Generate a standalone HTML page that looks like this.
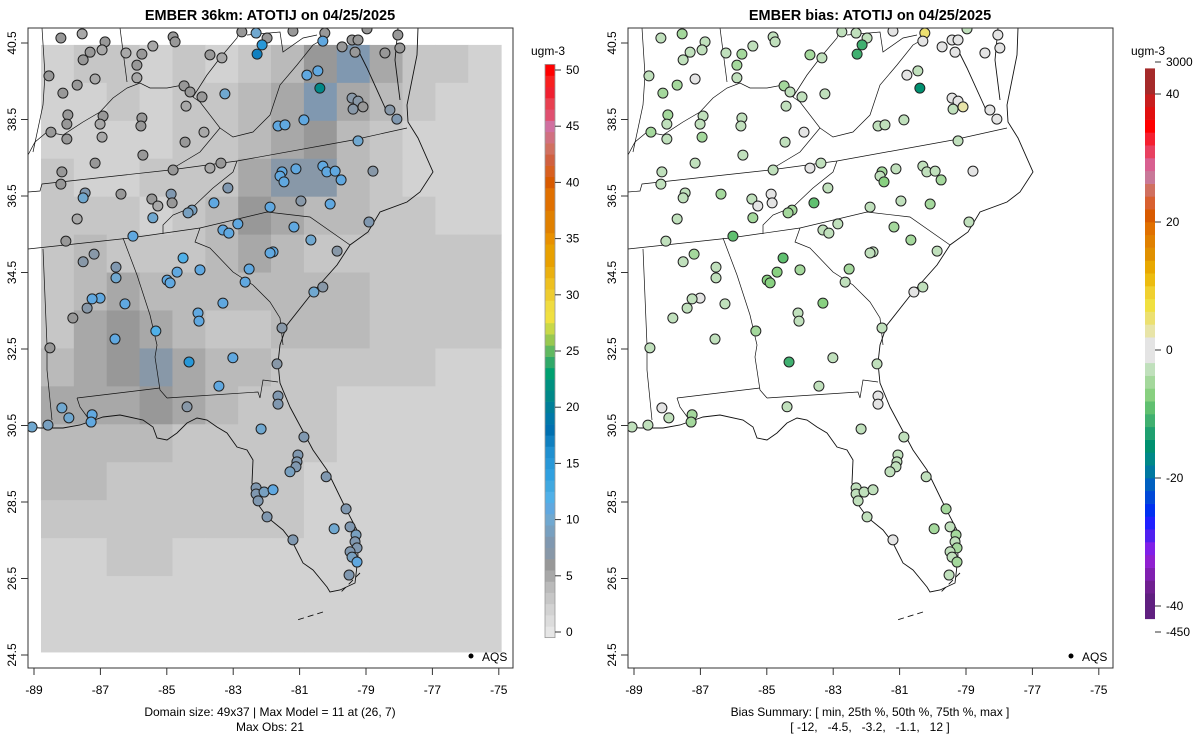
<!DOCTYPE html>
<html><head><meta charset="utf-8">
<style>
html,body{margin:0;padding:0;background:#fff;}
svg{display:block;font-family:"Liberation Sans",Arial,sans-serif;}
</style></head>
<body>
<svg id="chart" width="1200" height="750" viewBox="0 0 1200 750" xmlns="http://www.w3.org/2000/svg">
<defs>
<clipPath id="clipBox"><rect x="28" y="28" width="485" height="640"/></clipPath>
<g id="basemap" fill="none" stroke="#111" stroke-width="0.9">
<polyline points="418,28 417,55 407,105 408,122 418,138 433,172 420,192 407,202 380,212 368,232 350,245 337,265 313,292 287,325 280,345 278,363 280,383 290,407 313,450 327,470 345,507 357,530 358,557 355,583 340,590 330,592 327,587 313,570 303,563 293,543 283,530 267,517 257,503 252,483 253,460 247,450 237,447 227,433 217,427 207,420 197,418 187,423 177,433 167,440 157,438 153,427 143,420 120,415 103,417 80,425 63,428 40,428 28,427"/>
<polyline points="360,573 340,593" stroke-dasharray="6,4"/>
<polyline points="323,612 297,620" stroke-dasharray="6,4"/>
<polyline points="387,112 367,68 357,48"/>
<polyline points="398,28 395,60 400,100"/>
<polyline points="28,192 40,191 42,184 170,170 237,161 353,140 407,128" stroke-width="0.7"/>
<polyline points="28,249 130,238 200,228 267,212 310,217 350,245" stroke-width="0.7"/>
<polyline points="237,161 233,172 213,188 193,207 173,215 163,225 163,234" stroke-width="0.7"/>
<polyline points="200,228 195,242 210,248 233,272 253,285 270,302 280,318 283,345" stroke-width="0.7"/>
<polyline points="123,238 137,275 150,315 157,345 155,357 160,390 167,398" stroke-width="0.7"/>
<polyline points="167,398 258,392 260,398 263,380 278,382" stroke-width="0.7"/>
<polyline points="77,398 160,388" stroke-width="0.7"/>
<polyline points="77,398 80,407 88,418" stroke-width="0.7"/>
<polyline points="43,249 47,345 47,370 52,420" stroke-width="0.7"/>
<polyline points="170,170 200,152 220,128 200,102 193,97" stroke-width="0.7"/>
<polyline points="28,155 35,142 47,132 63,135 83,122 100,112 113,98 127,88 140,83 150,88 167,88 183,85 193,97" stroke-width="0.7"/>
<polyline points="42,28 45,75 43,105 33,152" stroke-width="0.7"/>
<polyline points="120,28 127,82" stroke-width="0.7"/>
<polyline points="220,128 233,137 253,132 270,115 280,85 297,65 313,45 327,37" stroke-width="0.7"/>
<polyline points="193,97 207,75 220,58 237,38 240,28" stroke-width="0.7"/>
<polyline points="247,35 280,32 283,52 303,38 317,35" stroke-width="0.7"/>
</g>
</defs>
<text x="270" y="20" text-anchor="middle" font-size="14.5" font-weight="bold">EMBER 36km: ATOTIJ on 04/25/2025</text>
<text x="870" y="20" text-anchor="middle" font-size="14.5" font-weight="bold">EMBER bias: ATOTIJ on 04/25/2025</text>
<g id="leftPanel">
 <g id="leftGrid" clip-path="url(#clipBox)"></g>
 <use href="#basemap" clip-path="url(#clipBox)"/>
 <g id="leftStations" clip-path="url(#clipBox)"></g>
 <rect x="28" y="28" width="485" height="640" fill="none" stroke="#333" stroke-width="1"/>
 <g id="leftAxes"></g>
 <circle cx="471" cy="656" r="2.5" fill="#000"/>
 <text x="482" y="661" font-size="12">AQS</text>
 <text x="270" y="716" text-anchor="middle" font-size="12">Domain size: 49x37 | Max Model = 11 at (26, 7)</text>
 <text x="270" y="731" text-anchor="middle" font-size="12">Max Obs: 21</text>
</g>
<g id="rightPanel" transform="translate(600,0)">
 <use href="#basemap" clip-path="url(#clipBox)"/>
 <g id="rightStations" clip-path="url(#clipBox)"></g>
 <rect x="28" y="28" width="485" height="640" fill="none" stroke="#333" stroke-width="1"/>
 <g id="rightAxes"></g>
 <circle cx="471" cy="656" r="2.5" fill="#000"/>
 <text x="482" y="661" font-size="12">AQS</text>
 <text x="270" y="716" text-anchor="middle" font-size="12">Bias Summary: [ min, 25th %, 50th %, 75th %, max ]</text>
 <text x="270" y="731" text-anchor="middle" font-size="12" xml:space="preserve">[ -12,   -4.5,   -3.2,   -1.1,   12 ]</text>
</g>
<g id="cbLeft"></g>
<g id="cbRight"></g>
</svg>
<script>
const NS="http://www.w3.org/2000/svg";
const xTicks=[-89,-87,-85,-83,-81,-79,-77,-75];
const yTicks=[40.5,38.5,36.5,34.5,32.5,30.5,28.5,26.5,24.5];
const gridLonMin=-88.79, gridLonMax=-74.93, gridLatMax=40.45, gridLatMin=24.58;
const modelGrid=[
[2,3,3,2,3,2,3,4,6,8,5,3,3,2],
[2,2,3,2,3,3,4,5,8,5,4,3,2,2],
[2,2,2,2,3,3,4,5,6,4,3,2,2,2],
[3,2,2,3,3,3,5,7,7,4,3,2,2,2],
[3,3,3,2,3,4,6,5,4,4,3,3,2,2],
[3,4,3,3,3,4,5,4,3,3,3,3,3,3],
[3,4,5,4,4,4,4,4,4,4,3,3,3,3],
[3,5,6,5,4,3,3,4,4,4,3,3,3,3],
[4,5,6,7,5,4,4,3,3,3,3,3,2,2],
[5,5,5,6,5,4,3,3,3,2,2,2,2,2],
[4,4,4,4,3,3,3,3,3,2,2,2,2,2],
[4,4,3,3,3,3,3,3,2,2,2,2,2,2],
[3,3,3,3,3,3,3,3,2,2,2,2,2,2],
[2,2,3,3,2,2,2,2,2,2,2,2,2,2],
[2,2,2,2,2,2,2,2,2,2,2,2,2,2],
[2,2,2,2,2,2,2,2,2,2,2,2,2,2]];
const stLon=[-88.19,-87.55,-86.86,-86.95,-87.31,-87.52,-86.23,-85.75,-85.42,-84.81,-84.75,-85.90,-85.90,-88.55,-87.70,-88.13,-87.16,-83.70,-83.34,-82.74,-82.31,-81.98,-82.13,-82.28,-81.20,-80.24,-80.30,-79.72,-79.42,-79.24,-79.33,-78.97,-78.04,-77.98,-78.43,-80.45,-80.78,-80.39,-79.42,-79.24,-79.39,-79.09,-78.28,-78.07,-84.48,-84.30,-83.94,-83.25,-84.42,-87.98,-86.92,-88.01,-87.01,-88.49,-88.01,-86.95,-85.75,-85.78,-83.88,-81.65,-81.44,-80.87,-84.45,-85.72,-87.16,-88.16,-88.19,-84.81,-83.70,-83.37,-79.24,-81.53,-81.59,-81.47,-81.11,-80.30,-80.18,-79.93,-79.75,-78.79,-87.46,-87.52,-86.38,-85.45,-85.27,-84.87,-84.84,-83.58,-83.16,-84.24,-84.36,-85.42,-87.70,-81.89,-80.96,-80.08,-78.91,-83.31,-83.13,-82.86,-81.17,-80.66,-86.02,-88.04,-87.19,-87.52,-86.53,-86.53,-84.51,-84.69,-84.00,-84.99,-84.90,-81.80,-81.89,-79.87,-82.52,-82.64,-80.30,-80.57,-87.01,-87.25,-87.40,-86.26,-87.83,-83.31,-84.06,-84.03,-85.33,-86.56,-81.53,-88.52,-84.33,-83.01,-81.68,-83.43,-81.65,-81.65,-84.39,-88.16,-87.95,-87.25,-87.28,-88.58,-89.06,-82.16,-80.87,-81.05,-81.08,-81.11,-81.29,-80.20,-82.31,-82.31,-82.07,-81.80,-82.25,-81.98,-81.20,-79.60,-79.96,-79.48,-79.30,-79.33,-79.27,-79.48,-79.42,-79.27,-79.51];
const stLat=[40.63,40.74,40.53,40.32,40.26,40.06,40.24,40.21,40.42,40.66,40.53,39.92,39.59,39.64,39.40,39.19,39.56,40.19,40.11,40.79,40.76,40.63,40.45,40.21,40.81,40.76,40.55,40.40,40.58,40.58,40.26,40.87,40.71,40.37,40.24,39.77,39.66,39.32,39.06,38.98,38.77,38.83,38.75,38.51,39.38,39.22,39.09,39.17,38.85,38.62,38.59,38.38,38.38,38.17,37.99,38.04,38.54,38.33,38.17,38.33,38.36,38.49,37.91,37.57,37.36,37.13,36.81,37.18,37.23,37.36,37.94,37.13,37.02,36.87,37.21,37.28,37.13,37.15,36.92,37.15,36.58,36.45,36.55,36.42,36.24,36.55,36.32,36.32,36.71,36.13,36.06,35.93,35.90,36.21,36.37,36.29,35.82,35.61,35.53,35.77,35.69,35.35,35.45,35.32,34.98,34.78,34.64,34.36,34.88,34.51,34.57,34.30,34.23,35.04,35.01,35.06,34.59,34.25,34.12,33.99,33.83,33.81,33.57,33.68,33.31,33.70,33.44,33.23,32.97,32.76,33.05,32.53,32.16,32.27,32.11,31.53,31.27,31.06,30.99,30.96,30.70,30.78,30.59,30.51,30.46,30.41,30.20,29.73,29.55,29.42,29.29,29.16,28.87,28.71,28.76,28.82,28.53,28.11,27.51,28.32,27.80,27.85,27.64,27.46,27.30,27.20,27.06,26.93,26.59];
const stObs=[6,5,6,5,6,6,5,6,5,6,6,6,5,6,6,6,5,6,5,6,10,6,15,17,6,6,11,6,6,6,6,6,6,6,6,11,11,21,7,7,7,6,7,8,6,6,6,10,5,6,6,6,5,6,6,5,6,6,5,11,11,11,6,6,6,6,6,6,5,6,10,11,11,11,11,11,11,11,11,7,8,10,6,6,5,8,6,11,8,9,9,10,5,11,7,11,8,11,11,11,11,10,11,6,7,7,8,10,12,11,11,11,11,11,11,7,11,11,7,10,11,11,7,11,6,11,11,11,12,11,7,6,15,11,7,11,8,8,7,10,10,11,11,9,10,10,8,8,8,8,9,8,8,8,9,11,8,8,8,8,10,8,9,8,8,8,9,11,8];
const stBias=[-2,-4,-3,-2,-3,-3,-2,-4,-2,-3,-3,-4,-2,-3,-4,-4,0,-4,-3,-2,-3,-2,-10,-10,0,5,0,0,0,0,-1,-2,0,0,0,-2,0,-15,0,0,-2,3,0,0,-4,-3,-3,-3,-2,-4,-2,-2,-2,-4,-2,-4,-2,-3,0,-3,-3,-3,-2,-2,-3,-2,-2,-2,0,-2,-3,-5,-3,-6,-2,-3,-3,-3,-5,0,-3,-3,-4,-2,0,0,0,-8,-2,-5,-4,-4,-2,-2,-2,-4,-3,-3,-2,-3,-4,-4,-8,-2,-4,-2,-2,-3,-8,-6,-5,-6,-7,-2,-2,-2,-4,-3,-3,0,0,-2,-3,-2,-2,-6,-3,-2,-4,-2,-3,-2,-10,-3,-2,-3,-1,-1,-2,0,-2,-5,-5,-2,-3,-3,-3,-2,-2,-2,-3,-2,-2,-2,-3,-2,-2,-3,-1,-4,-5,-3,-4,-3,-4,-3,-3,-5,-3];
const modelTicks=[0,5,10,15,20,25,30,35,40,45,50];
const biasTickVals=[-450,-40,-20,0,20,40,3000];
const modelColors=["#e6e6e6","#dcdcdc","#d2d2d2","#c6c6c6","#bababa","#a8a8a8","#989898","#8898a8","#8098b0","#78a0c0","#70a8d0","#60a8e0","#50b0e8","#40a8e0","#30a0e0","#2898d8","#2090d0","#1080c0","#0070b0","#0078a8","#007e98","#008888","#009080","#00a070","#30a868","#60b860","#98c850","#c8d848","#f0e040","#f0dc40","#eecc30","#eec020","#eab010","#e8a000","#e8a000","#e89000","#e08000","#e08000","#e07000","#e07000","#d85a00","#d86020","#d06040","#d07060","#d07080","#d070a0","#e05070","#e84050","#f02030","#f82020","#ff0000"];
const biasColors=["#602080","#602080","#702090","#8020b0","#9020d0","#8020e8","#5020f0","#2020ff","#0030f0","#0048d8","#0060c0","#0078a0","#008888","#009070","#20a070","#40b070","#60c070","#88d080","#a4d89c","#c0e0bc","#e4e4e4","#e4e4e4","#e8e4a8","#ece070","#f0e040","#f0d030","#ecbc10","#e8a800","#e09000","#e08000","#e07000","#d85a00","#d86030","#d07060","#c87898","#d86090","#e84060","#f52030","#ff0000","#e01010","#c81e1e","#a52a2a","#a52a2a"];

function xOf(lon){return 34+(lon+89)*33.2;}
function yOf(lat){return 43+(40.5-lat)*38.25;}
function modelColor(v){let i=Math.round(v);i=Math.max(0,Math.min(50,i));return modelColors[i];}
function biasColor(v){let i=Math.ceil((v+42)/2)-1;if(v>=0&&v<2)i=20;i=Math.max(0,Math.min(biasColors.length-1,i));return biasColors[i];}
function binColor(k){return biasColors[k];}
function mk(tag,attrs,parent){const e=document.createElementNS(NS,tag);for(const k in attrs)e.setAttribute(k,attrs[k]);parent.appendChild(e);return e;}

const lg=document.getElementById('leftGrid');
const nr=modelGrid.length,nc=modelGrid[0].length;
const dLon=(gridLonMax-gridLonMin)/nc,dLat=(gridLatMax-gridLatMin)/nr;
for(let r=0;r<nr;r++)for(let c=0;c<nc;c++){
 const x0=xOf(gridLonMin+c*dLon),x1=xOf(gridLonMin+(c+1)*dLon);
 const y0=yOf(gridLatMax-r*dLat),y1=yOf(gridLatMax-(r+1)*dLat);
 const e=mk('rect',{x:x0,y:y0,width:x1-x0+0.5,height:y1-y0+0.5,fill:modelColor(modelGrid[r][c])},lg);
 
 
}
const ls=document.getElementById('leftStations'),rs=document.getElementById('rightStations');
for(let i=0;i<stLon.length;i++){
 const cx=xOf(stLon[i]),cy=yOf(stLat[i]);
 const a=mk('circle',{cx:cx,cy:cy,r:5,fill:modelColor(stObs[i]),stroke:'#222','stroke-width':1},ls);
 
 
 const b=mk('circle',{cx:cx,cy:cy,r:5,fill:biasColor(stBias[i]),stroke:'#222','stroke-width':1},rs);
 
 
}
function axes(id){
 const g=document.getElementById(id);
 xTicks.forEach(t=>{const x=xOf(t);
  const l=mk('line',{x1:x,x2:x,y1:668,y2:675,stroke:'#333'},g);
  
  
  const tx=mk('text',{x:x,y:694,'text-anchor':'middle','font-size':12},g);tx.textContent=t;
  
  });
 yTicks.forEach(t=>{const y=yOf(t);
  const l=mk('line',{x1:21,x2:28,y1:y,y2:y,stroke:'#333'},g);
  
  
  const tx=mk('text',{x:0,y:0,'text-anchor':'middle','font-size':12,transform:`translate(16,${y}) rotate(-90)`},g);tx.textContent=t.toFixed(1);
  
  });
}
axes('leftAxes');axes('rightAxes');
const cbl=document.getElementById('cbLeft');
function ymod(v){return 632-v*11.24;}
for(let v=0;v<=50;v++){
 const y0=ymod(v+0.5),y1=ymod(v-0.5);
 const e=mk('rect',{x:545,y:y0,width:10,height:y1-y0+0.3,fill:modelColor(v)},cbl);
 
 
}
mk('rect',{x:545,y:ymod(50.5),width:10,height:ymod(-0.5)-ymod(50.5),fill:'none',stroke:'#999','stroke-width':0.8},cbl);
modelTicks.forEach(t=>{const y=ymod(t);
 mk('line',{x1:555,x2:561,y1:y,y2:y,stroke:'#333'},cbl);
 const tx=mk('text',{x:566,y:y+4,'font-size':12},cbl);tx.textContent=t;
 
 });
const u1=mk('text',{x:548,y:55,'text-anchor':'middle','font-size':12},cbl);u1.textContent='ugm-3';


const cbr=document.getElementById('cbRight');
function ybias(v){if(v>=3000)return 57;if(v<=-450)return 632;return 350-Math.max(-44.5,Math.min(45.5,v))*6.4;}
for(let k=0;k<biasColors.length;k++){
 const lo=-42+k*2,hi=lo+2;
 const y0=Math.max(ybias(hi),59),y1=Math.min(ybias(lo),637);
 if(y1<=y0)continue;
 const e=mk('rect',{x:1145,y:y0,width:10,height:y1-y0+0.3,fill:binColor(k)},cbr);
 
 
}
const bt=[632,606,478,350,222,94,62];
biasTickVals.forEach((t,i)=>{const y=(t===3000||t===-450)?bt[i]:ybias(t);
 mk('line',{x1:1155,x2:1161,y1:y,y2:y,stroke:'#333'},cbr);
 const tx=mk('text',{x:1166,y:y+4,'font-size':12},cbr);tx.textContent=t;
 
 });
const u2=mk('text',{x:1148,y:55,'text-anchor':'middle','font-size':12},cbr);u2.textContent='ugm-3';


</script>
</body></html>
